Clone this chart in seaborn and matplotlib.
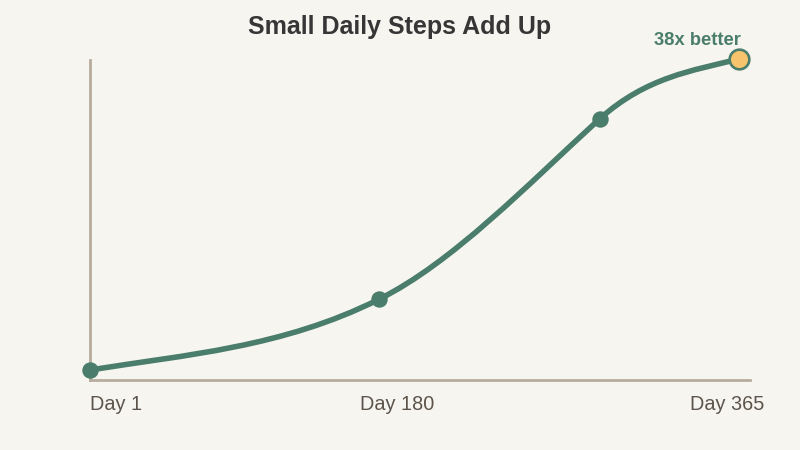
import seaborn as sns
import matplotlib.pyplot as plt
import pandas as pd
import numpy as np
from matplotlib.path import Path
from matplotlib.patches import PathPatch

# the chart values
days = [1, 163, 287, 365]
growth = [1.0, 9.4, 30.9, 38.0]
tick_labels = ['Day 1', 'Day 180', 'Day 365']
title = 'Small Daily Steps Add Up'
callout = '38x better'

# curve shape: tangent slope (growth per day) leaving / entering each point
slope_out = [0.034, 0.106, 0.19]
slope_in = [0.106, 0.194, 0.053]

green = '#4a7d6b'
bg = '#f7f5f0'
axis_col = '#b8ad9c'

sns.set_theme(style='white')
plt.rcParams['font.family'] = ['Liberation Sans', 'DejaVu Sans']

df = pd.DataFrame({'day': days, 'growth': growth})

fig = plt.figure(figsize=(8, 4.5), dpi=100, facecolor=bg)
ax = fig.add_axes([90 / 800, 70 / 450, 660 / 800, 320 / 450])
ax.set_facecolor(bg)
ax.set_xlim(1, 371.2)
ax.set_ylim(-0.19, 37.88)


# hermite segments between the points, drawn as cubic beziers
def smooth_path(x, y, m_out, m_in):
    verts = [(x[0], y[0])]
    codes = [Path.MOVETO]
    for i in range(len(x) - 1):
        dx = (x[i + 1] - x[i]) / 3
        verts += [(x[i] + dx, y[i] + dx * m_out[i]),
                  (x[i + 1] - dx, y[i + 1] - dx * m_in[i]),
                  (x[i + 1], y[i + 1])]
        codes += [Path.CURVE4] * 3
    return Path(verts, codes)


curve = PathPatch(smooth_path(days, growth, slope_out, slope_in), facecolor='none',
                  edgecolor=green, lw=4, capstyle='round', joinstyle='round',
                  clip_on=False, zorder=2)
ax.add_patch(curve)

sns.scatterplot(data=df.iloc[:-1], x='day', y='growth', ax=ax, color=green,
                s=140, linewidth=0, zorder=3, clip_on=False)
sns.scatterplot(data=df.iloc[-1:], x='day', y='growth', ax=ax, color='#f7c36c',
                edgecolor=green, s=200, linewidth=1.9, zorder=4, clip_on=False)

# axes look
for side in ['top', 'right']:
    ax.spines[side].set_visible(False)
for side in ['left', 'bottom']:
    ax.spines[side].set_color(axis_col)
    ax.spines[side].set_linewidth(2)
ax.set_xticks([])
ax.set_yticks([])
ax.set_xlabel('')
ax.set_ylabel('')

# x labels (layout positions in pixels)
label_px = [90, 397, 764]
label_ha = ['left', 'center', 'right']
for lab, px, ha in zip(tick_labels, label_px, label_ha):
    fig.text(px / 800, 1 - 409.5 / 450, lab, ha=ha, va='baseline',
             fontsize=14.3, color='#5c544a')

fig.text(0.5, 1 - 34.3 / 450, title, ha='center', va='baseline',
         fontsize=18, fontweight='bold', color='#363636')
fig.text(697 / 800, 1 - 45 / 450, callout, ha='center', va='baseline',
         fontsize=13.2, fontweight='bold', color=green)

fig.savefig('out.png', dpi=100, facecolor=bg)
